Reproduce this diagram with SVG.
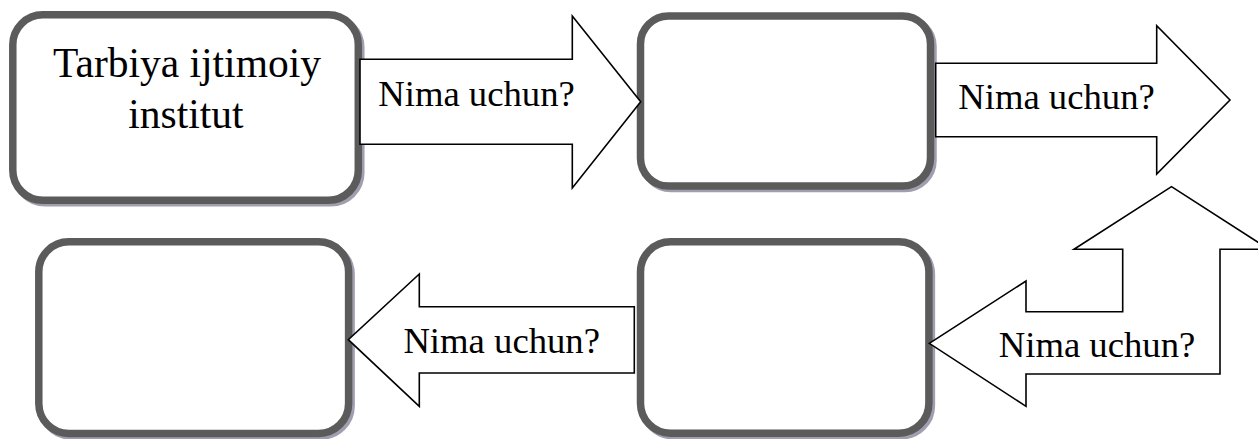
<svg xmlns="http://www.w3.org/2000/svg" width="1258" height="439" viewBox="0 0 1258 439">
<style>
.shadow{fill:none;stroke:#a39db0;stroke-width:7.5}
.box{fill:#ffffff;stroke:#5b5b5b;stroke-width:7.5}
.arrow{fill:#ffffff;stroke:#000000;stroke-width:1.6;stroke-linejoin:miter}
.lbl{font-family:"Liberation Serif","Times New Roman",serif;font-size:36.7px;fill:#000000;text-anchor:middle}
.title{font-family:"Liberation Serif","Times New Roman",serif;font-size:41.5px;fill:#000000;text-anchor:middle}
</style>
<rect width="1258" height="439" fill="#ffffff"/>
<g id="node-tarbiya">
<rect class="shadow" x="15.3" y="17.3" width="345.5" height="185.5" rx="30"/>
<rect class="box" x="12.8" y="14.8" width="345.5" height="185.5" rx="30"/>
<text class="title" x="187" y="77">Tarbiya ijtimoiy</text>
<text class="title" x="186" y="128">institut</text>
</g>
<g id="node-top-right">
<rect class="shadow" x="643" y="18.5" width="290" height="170" rx="28"/>
<rect class="box" x="640.5" y="16" width="290" height="170" rx="28"/>
</g>
<g id="node-bottom-left">
<rect class="shadow" x="41.3" y="244.3" width="309.8" height="191.7" rx="30"/>
<rect class="box" x="38.8" y="241.8" width="309.8" height="191.7" rx="30"/>
</g>
<g id="node-bottom-right">
<rect class="shadow" x="643" y="244.3" width="288.4" height="191.4" rx="30"/>
<rect class="box" x="640.5" y="241.8" width="288.4" height="191.4" rx="30"/>
</g>
<g id="connectors">
<g id="arrow-1">
<polygon class="arrow" points="360,59.3 572.3,59.3 572.3,16 640.7,101.7 572.3,188 572.3,144.3 360,144.3"/>
<text class="lbl" x="476.5" y="106">Nima uchun?</text>
</g>
<g id="arrow-2">
<polygon class="arrow" points="935.7,63.3 1156.7,63.3 1156.7,25.7 1230,100 1156.7,174 1156.7,136.7 935.7,136.7"/>
<text class="lbl" x="1056.5" y="109">Nima uchun?</text>
</g>
<g id="arrow-3">
<polygon class="arrow" points="634.3,306.7 419.3,306.7 419.3,274 348.3,339.7 419.3,406.3 419.3,373 634.3,373"/>
<text class="lbl" x="501.7" y="353">Nima uchun?</text>
</g>
<g id="arrow-4">
<polygon class="arrow" points="929.3,343.3 1026,281 1026,311.7 1122.7,311.7 1122.7,249.3 1074,249.3 1171.5,186.7 1269,249.3 1220,249.3 1220,374 1026,374 1026,406.3"/>
<text class="lbl" x="1097" y="357">Nima uchun?</text>
</g>
</g>
</svg>
